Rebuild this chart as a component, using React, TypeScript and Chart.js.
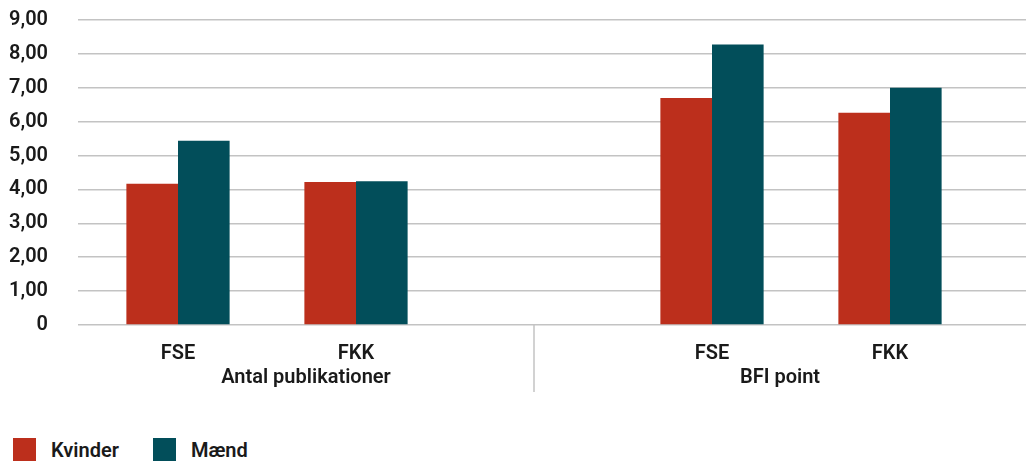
import React, { useEffect, useRef } from "react";
import { Chart, registerables } from "chart.js";

Chart.register(...registerables);

const categories = ["FSE", "FKK", "", "FSE", "FKK"];
const groupLabels = ["Antal publikationer", "BFI point"];
const seriesNames = ["Kvinder", "Mænd"];
const kvinder = [4.17, 4.22, null, 6.7, 6.26];
const maend = [5.44, 4.24, null, 8.28, 7.0];
const yMin = 0;
const yMax = 9;
const yStep = 1;

const RED = "#bc2f1c";
const TEAL = "#024e5a";
const GRID = "#c3c3c3";
const TEXT = "#1a1a1a";
const FONT = "Roboto";
const WEIGHT = "600";

const noPad = (s: any) => {
  s.paddingTop = 0;
  s.paddingBottom = 0;
  s.paddingLeft = 0;
  s.paddingRight = 0;
};

const groupPlugin = {
  id: "groupPlugin",
  afterDraw(chart: any) {
    const { ctx, chartArea } = chart;
    const x = chart.scales.x;
    const sep = x.getPixelForValue(2);
    ctx.save();
    ctx.strokeStyle = GRID;
    ctx.lineWidth = 1.5;
    ctx.beginPath();
    ctx.moveTo(sep, chartArea.bottom);
    ctx.lineTo(sep, chartArea.bottom + 67);
    ctx.stroke();
    ctx.fillStyle = TEXT;
    ctx.font = `${WEIGHT} 20px ${FONT}`;
    ctx.textAlign = "center";
    ctx.textBaseline = "alphabetic";
    const g1 = (chartArea.left - 11 + sep) / 2;
    const g2 = (sep + chart.width) / 2;
    ctx.fillText(groupLabels[0], g1, chartArea.bottom + 58);
    ctx.fillText(groupLabels[1], g2, chartArea.bottom + 58);
    ctx.restore();
  },
};

export default function App() {
  const ref = useRef<HTMLCanvasElement>(null);
  useEffect(() => {
    if (!ref.current) return;
    const chart = new Chart(ref.current, {
      type: "bar",
      data: {
        labels: categories,
        datasets: [
          { label: seriesNames[0], data: kvinder, backgroundColor: RED, borderWidth: 0 },
          { label: seriesNames[1], data: maend, backgroundColor: TEAL, borderWidth: 0 },
        ],
      },
      options: {
        animation: false,
        responsive: true,
        maintainAspectRatio: false,
        layout: { padding: { top: 20, left: 0, right: 0, bottom: 0 } },
        datasets: { bar: { categoryPercentage: 0.58, barPercentage: 1.0 } },
        plugins: { legend: { display: false }, tooltip: { enabled: false } },
        scales: {
          x: {
            type: "category",
            offset: true,
            grid: { display: false },
            border: { display: false },
            ticks: { color: TEXT, font: { family: FONT, size: 20, weight: WEIGHT }, padding: 9, maxRotation: 0, autoSkip: false },
            afterFit: (s: any) => { s.height = 95; noPad(s); },
          },
          y: {
            min: yMin,
            max: yMax,
            border: { display: false },
            grid: { color: GRID, lineWidth: 1.5, tickLength: 11, drawTicks: true },
            ticks: {
              stepSize: yStep,
              padding: 30,
              color: TEXT,
              font: { family: FONT, size: 20, weight: WEIGHT },
              callback: (v: any) => (Number(v) === 0 ? "0" : Number(v).toFixed(2).replace(".", ",")),
            },
            afterFit: (s: any) => { s.width = 89; noPad(s); },
          },
          y2: {
            position: "right",
            min: yMin,
            max: yMax,
            border: { display: false },
            grid: { color: GRID, lineWidth: 1.5, tickLength: 47, drawTicks: true, drawOnChartArea: false },
            ticks: { stepSize: yStep, display: false },
            afterFit: (s: any) => { s.width = 47; noPad(s); },
          },
        },
      },
      plugins: [groupPlugin],
    });
    return () => chart.destroy();
  }, []);

  const legendItem = (name: string, color: string, ml: number) => (
    <div style={{ display: "flex", alignItems: "center", marginLeft: ml }}>
      <div style={{ width: 23, height: 23, background: color }} />
      <span style={{ marginLeft: 15, fontFamily: FONT, fontWeight: 600, fontSize: 20, color: TEXT }}>{name}</span>
    </div>
  );

  return (
    <div style={{ position: "absolute", left: 0, top: 0, width: 1026, height: 461, background: "#fff" }}>
      <div style={{ position: "absolute", left: 0, top: 0, width: 1026, height: 420 }}>
        <canvas ref={ref} />
      </div>
      <div style={{ position: "absolute", left: 13, top: 438, height: 23, display: "flex" }}>
        {legendItem(seriesNames[0], RED, 0)}
        {legendItem(seriesNames[1], TEAL, 34)}
      </div>
    </div>
  );
}
